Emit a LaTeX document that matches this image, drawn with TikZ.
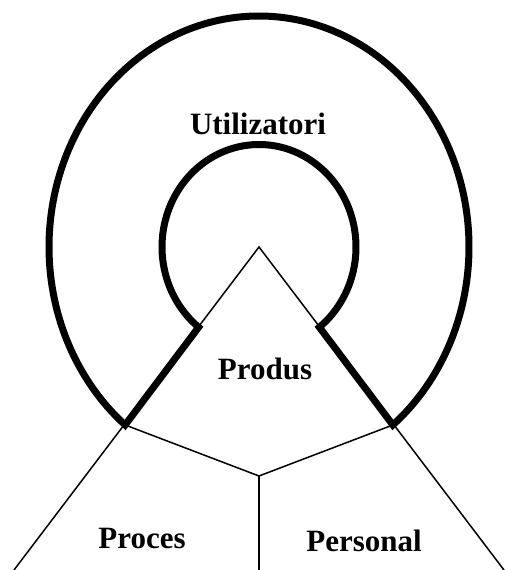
\documentclass[tikz,border=0pt]{standalone}
\usepackage{fontspec}
\setmainfont{Liberation Serif}
\usetikzlibrary{calc}
\begin{document}
\begin{tikzpicture}[x=1pt,y=1pt,
  thickline/.style={line width=7pt,line join=miter,black},
  thinline/.style={line width=1.5pt,black},
  lbl/.style={font=\fontsize{31}{37}\selectfont\bfseries,inner sep=0pt,anchor=base}]
\useasboundingbox (0,0) rectangle (505,570);
% centre / apex
\coordinate (A) at (259,323);
\coordinate (oL) at ($(A)+(230.4:210 and 231)$);
\coordinate (oR) at ($(A)+(309.6:210 and 231)$);
\coordinate (iL) at ($(A)+(231.5:97 and 102.5)$);
\coordinate (iR) at ($(A)+(308.5:97 and 102.5)$);
\coordinate (BL) at (14,0);
\coordinate (BR) at (504,0);
\coordinate (J) at (259,94);
\coordinate (JB) at (259,0);
% thin lines
\draw[thinline] (BL) -- (A) -- (BR);
\draw[thinline] (oL) -- (J) -- (oR);
\draw[thinline] (J) -- (JB);
% thick outline
\draw[thickline] (oL) -- (iL)
  arc[start angle=231.5,end angle=-51.5,x radius=97,y radius=102.5]
  -- (oR)
  arc[start angle=-50.4,end angle=230.4,x radius=210,y radius=231]
  -- cycle;
% labels
\node[lbl] (u) at (258,435) {Utilizatori};
\node[lbl] (p) at (265,190) {Produs};
\node[lbl] (pr) at (142,21) {Proces};
\node[lbl] (pe) at (364,19) {Personal};
\end{tikzpicture}
\end{document}
